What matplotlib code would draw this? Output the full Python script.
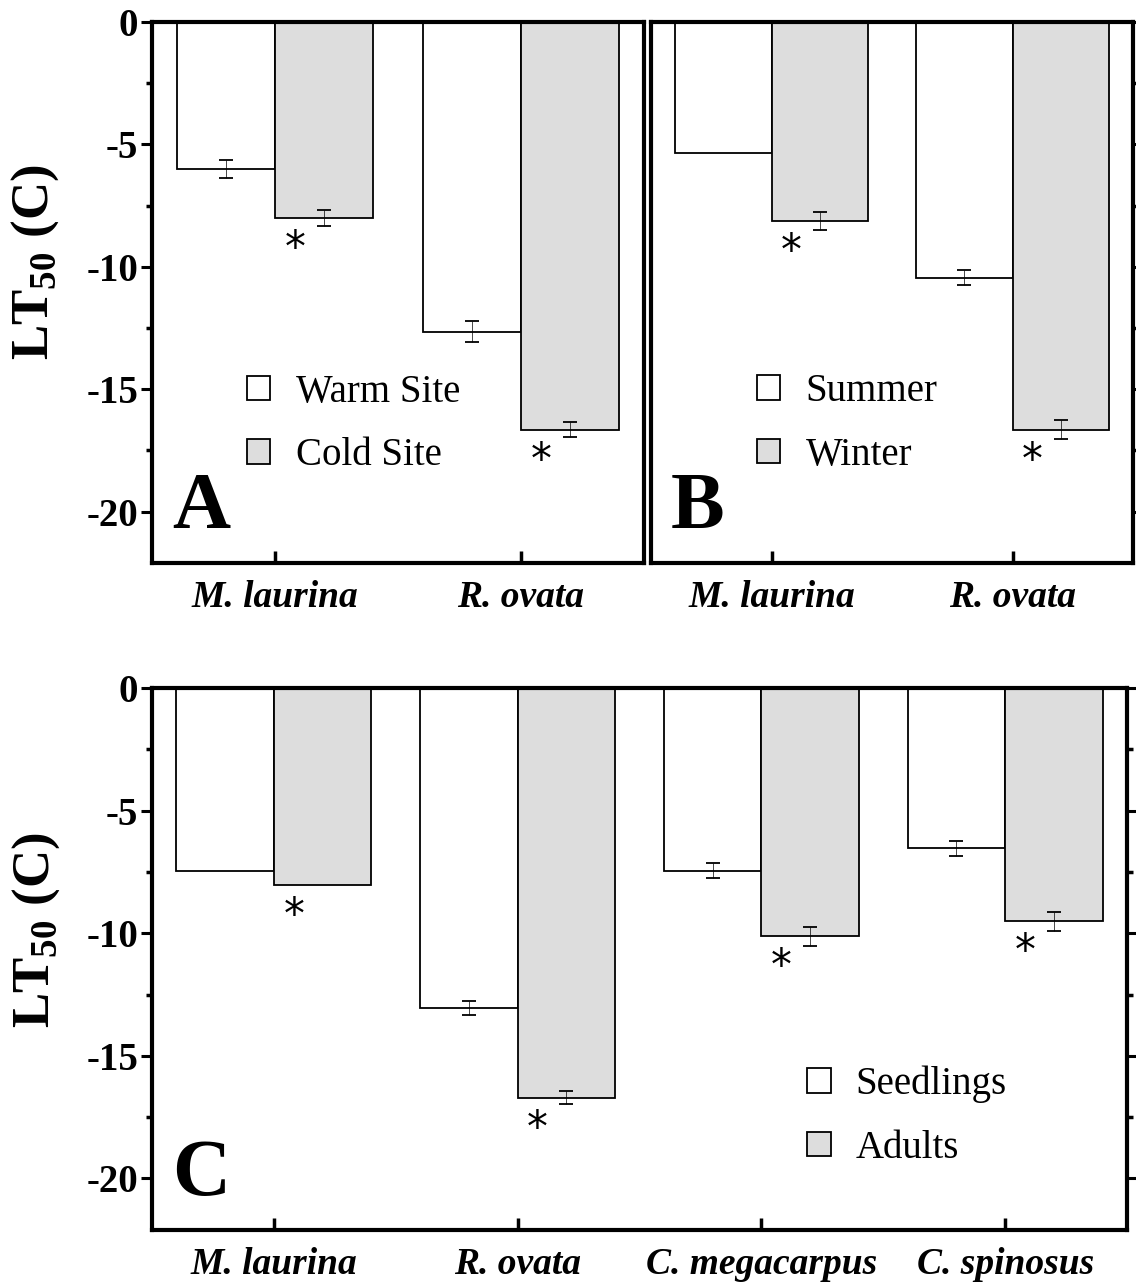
import matplotlib
matplotlib.use("Agg")
import matplotlib.pyplot as plt
import numpy as np
from matplotlib.patches import Patch

plt.rcParams['font.family'] = 'Liberation Serif'
plt.rcParams['mathtext.fontset'] = 'custom'
plt.rcParams['mathtext.rm'] = 'Liberation Serif:bold'
plt.rcParams['mathtext.bf'] = 'Liberation Serif:bold'

# Panel A: site comparison
species_ab = ['M. laurina', 'R. ovata']
warm = [-6.0, -12.65]
warm_se = [0.38, 0.42]
cold = [-8.0, -16.65]
cold_se = [0.32, 0.30]
sig_a = [True, True]

# Panel B: seasonal comparison
summer = [-5.35, -10.45]
summer_se = [np.nan, 0.30]
winter = [-8.12, -16.65]
winter_se = [0.37, 0.37]
sig_b = [True, True]

# Panel C: life stage comparison
species_c = ['M. laurina', 'R. ovata', 'C. megacarpus', 'C. spinosus']
seedlings = [-7.45, -13.05, -7.45, -6.54]
seedlings_se = [np.nan, 0.30, 0.30, 0.30]
adults = [-8.05, -16.7, -10.12, -9.51]
adults_se = [np.nan, 0.28, 0.38, 0.39]
sig_c = [True, True, True, True]

GRAY = '#dddddd'
W = 0.4


def draw_panel(ax, cats, v1, e1, v2, e2, sig, labels, letter, leg_xy,
               left_labels=True, right_ticks=False):
    x = np.arange(len(cats))
    ax.bar(x - W/2, v1, width=W, color='white', edgecolor='black', lw=1.3, zorder=2)
    ax.bar(x + W/2, v2, width=W, color=GRAY, edgecolor='black', lw=1.3, zorder=2)
    for xs, v, e in [(x - W/2, v1, e1), (x + W/2, v2, e2)]:
        v = np.asarray(v); e = np.asarray(e)
        ok = ~np.isnan(e)
        ax.errorbar(xs[ok], v[ok], yerr=e[ok], fmt='none', ecolor='black',
                    elinewidth=0.5, capsize=5, capthick=1.3, zorder=3)
    for i, s in enumerate(sig):
        if s:
            ax.annotate('*', xy=(x[i], v2[i]), xytext=(20, -31),
                        textcoords='offset pixels', ha='center', va='center',
                        fontsize=30, family='DejaVu Sans', zorder=4)

    ax.set_xlim(-0.5, len(cats) - 0.5)
    ax.set_ylim(-22.1, 0)
    ax.set_xticks(x)
    ax.set_xticklabels(cats, fontsize=27, fontweight='bold', style='italic')
    ax.set_yticks([0, -5, -10, -15, -20])
    ax.set_yticklabels(['0', '-5', '-10', '-15', '-20'], fontsize=28, fontweight='bold')
    ax.set_yticks(np.arange(-2.5, -22, -5), minor=True)
    for sp in ax.spines.values():
        sp.set_linewidth(3)
    ax.tick_params(axis='x', direction='in', length=9, width=2.5, pad=12, top=False)
    ax.tick_params(axis='y', which='major', direction='out', length=8, width=2.2, pad=2,
                   left=left_labels, labelleft=left_labels, right=right_ticks)
    ax.tick_params(axis='y', which='minor', direction='out', length=4, width=2.5,
                   left=left_labels, right=right_ticks)

    handles = [Patch(facecolor='white', edgecolor='black', lw=1.3),
               Patch(facecolor=GRAY, edgecolor='black', lw=1.3)]
    ax.legend(handles, labels, loc='center left', bbox_to_anchor=leg_xy, frameon=False,
              fontsize=28, handlelength=0.6, handleheight=0.6, handletextpad=0.65,
              labelspacing=0.68, borderpad=0, borderaxespad=0)
    ax.annotate(letter, xy=(0, 0), xycoords='axes fraction', xytext=(20, 35),
                textcoords='offset pixels', fontsize=58, fontweight='bold',
                ha='left', va='baseline')


fig = plt.figure(figsize=(11.36, 12.85), dpi=100)
axA = fig.add_axes([0.1338, 0.5619, 0.4331, 0.421])
axB = fig.add_axes([0.5731, 0.5619, 0.4243, 0.421])
axC = fig.add_axes([0.1338, 0.0428, 0.8583, 0.4218])

draw_panel(axA, species_ab, warm, warm_se, cold, cold_se, sig_a,
           ['Warm Site', 'Cold Site'], 'A', (0.193, 0.257))
draw_panel(axB, species_ab, summer, summer_se, winter, winter_se, sig_b,
           ['Summer', 'Winter'], 'B', (0.22, 0.258),
           left_labels=False, right_ticks=True)
draw_panel(axC, species_c, seedlings, seedlings_se, adults, adults_se, sig_c,
           ['Seedlings', 'Adults'], 'C', (0.672, 0.21), right_ticks=True)

ylab = r'LT$_{\mathrm{50}}$ (C)'
axA.set_ylabel(ylab, fontsize=38, fontweight='bold')
axA.yaxis.set_label_coords(-0.184, 0.555)
axC.set_ylabel(ylab, fontsize=38, fontweight='bold')
axC.yaxis.set_label_coords(-0.092, 0.553)

fig.savefig('out.png', dpi=100)
